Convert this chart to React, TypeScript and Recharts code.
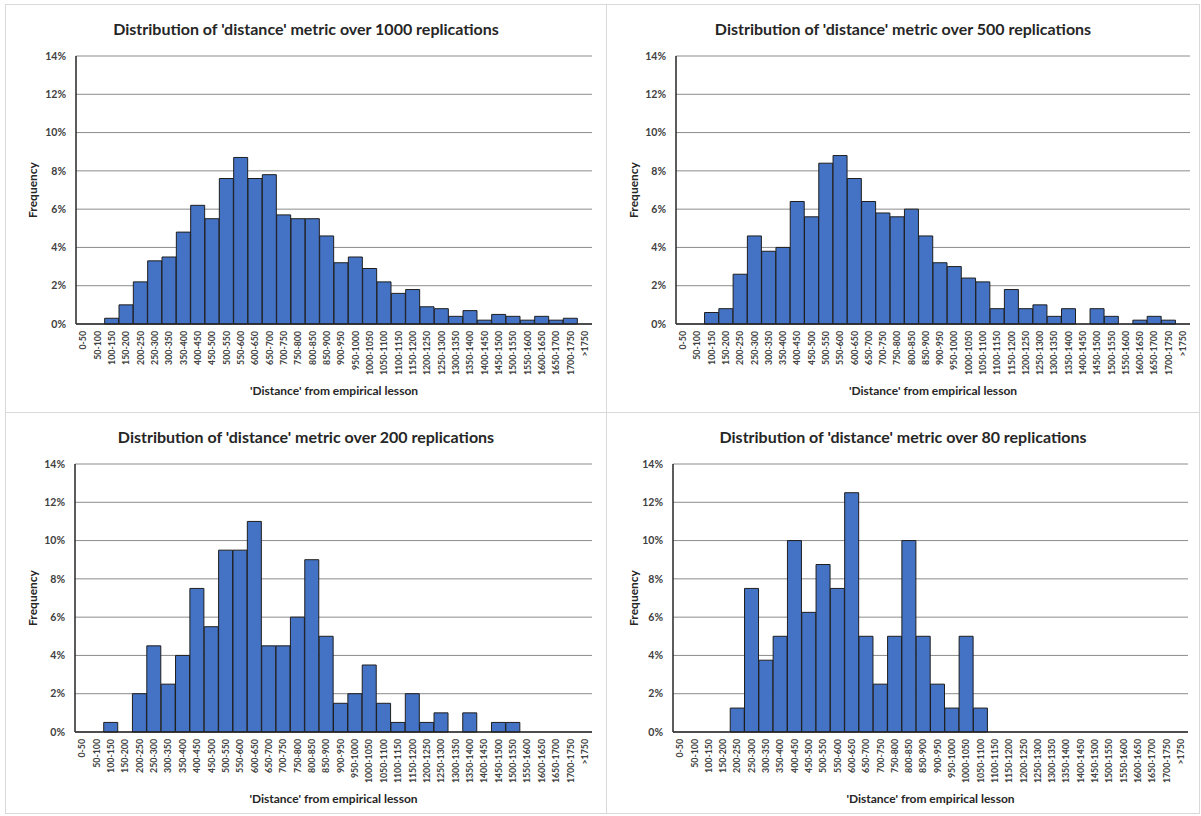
import React from 'react';
import { BarChart, Bar, XAxis, YAxis, CartesianGrid } from 'recharts';

const bins = [
  '0-50', '50-100', '100-150', '150-200', '200-250', '250-300', '300-350', '350-400',
  '400-450', '450-500', '500-550', '550-600', '600-650', '650-700', '700-750', '750-800',
  '800-850', '850-900', '900-950', '950-1000', '1000-1050', '1050-1100', '1100-1150',
  '1150-1200', '1200-1250', '1250-1300', '1300-1350', '1350-1400', '1400-1450',
  '1450-1500', '1500-1550', '1550-1600', '1600-1650', '1650-1700', '1700-1750', '>1750',
];

// frequency in % per bin
const freq1000 = [0, 0, 0.3, 1.0, 2.2, 3.3, 3.5, 4.8, 6.2, 5.5, 7.6, 8.7, 7.6, 7.8, 5.7, 5.5, 5.5, 4.6, 3.2, 3.5, 2.9, 2.2, 1.6, 1.8, 0.9, 0.8, 0.4, 0.7, 0.2, 0.5, 0.4, 0.2, 0.4, 0.2, 0.3, 0];
const freq500 = [0, 0, 0.6, 0.8, 2.6, 4.6, 3.8, 4.0, 6.4, 5.6, 8.4, 8.8, 7.6, 6.4, 5.8, 5.6, 6.0, 4.6, 3.2, 3.0, 2.4, 2.2, 0.8, 1.8, 0.8, 1.0, 0.4, 0.8, 0, 0.8, 0.4, 0, 0.2, 0.4, 0.2, 0];
const freq200 = [0, 0, 0.5, 0, 2.0, 4.5, 2.5, 4.0, 7.5, 5.5, 9.5, 9.5, 11.0, 4.5, 4.5, 6.0, 9.0, 5.0, 1.5, 2.0, 3.5, 1.5, 0.5, 2.0, 0.5, 1.0, 0, 1.0, 0, 0.5, 0.5, 0, 0, 0, 0, 0];
const freq80 = [0, 0, 0, 0, 1.25, 7.5, 3.75, 5.0, 10.0, 6.25, 8.75, 7.5, 12.5, 5.0, 2.5, 5.0, 10.0, 5.0, 2.5, 1.25, 5.0, 1.25, 0, 0, 0, 0, 0, 0, 0, 0, 0, 0, 0, 0, 0, 0];

const yTicks = [0, 2, 4, 6, 8, 10, 12, 14];

const FONT = 'Lato, "Open Sans", sans-serif';

const BinTick = ({ x, y, payload }: any) => (
  <text
    x={x}
    y={y - 1}
    transform={`rotate(-90 ${x} ${y - 1})`}
    textAnchor="end"
    dy="0.35em"
    fontSize={8.8}
    fontWeight={700}
    fontFamily={FONT}
    fill="#404040"
  >
    {payload.value}
  </text>
);

interface PanelProps {
  left: number;
  top: number;
  width: number;
  height: number;
  reps: number;
  values: number[];
  plotLeft: number;
  plotRight: number;
}

const Panel = ({ left, top, width, height, reps, values, plotLeft, plotRight }: PanelProps) => {
  const data = bins.map((bin, i) => ({ bin, freq: values[i] }));
  const chartW = width - 2;
  const chartH = height - 2;
  const yAxisW = 60;
  return (
    <div
      style={{
        position: 'absolute',
        left,
        top,
        width,
        height,
        border: '1px solid #d9d9d9',
        boxSizing: 'border-box',
      }}
    >
      <div
        style={{
          position: 'absolute',
          left: 0,
          top: 14,
          width: chartW,
          textAlign: 'center',
          fontFamily: FONT,
          fontWeight: 700,
          fontSize: 16,
          color: '#262626',
        }}
      >
        Distribution of 'distance' metric over {reps} replications
      </div>
      <div style={{ position: 'absolute', left: 0, top: 0 }}>
        <BarChart
          width={chartW}
          height={chartH}
          data={data}
          barCategoryGap={0}
          margin={{ top: 51, right: plotRight, bottom: chartH - 319 - 75, left: plotLeft - yAxisW }}
        >
          <CartesianGrid vertical={false} stroke="#8c8c8c" strokeWidth={1} />
          <XAxis
            dataKey="bin"
            interval={0}
            height={75}
            tickLine={false}
            axisLine={{ stroke: '#262626', strokeWidth: 1.5 }}
            tick={<BinTick />}
            label={{
              value: "'Distance' from empirical lesson",
              position: 'insideBottom',
              offset: 4,
              style: { fontFamily: FONT, fontWeight: 700, fontSize: 12, fill: '#262626' },
            }}
          />
          <YAxis
            width={yAxisW}
            domain={[0, 14]}
            ticks={yTicks}
            tickLine={false}
            tickMargin={4}
            axisLine={{ stroke: '#262626', strokeWidth: 1.5 }}
            tickFormatter={(v: number) => `${v}%`}
            tick={{ fontFamily: FONT, fontWeight: 700, fontSize: 10.5, fill: '#404040' }}
            label={{
              value: 'Frequency',
              angle: -90,
              position: 'insideLeft',
              offset: 27 - (plotLeft - yAxisW),
              style: { textAnchor: 'middle', fontFamily: FONT, fontWeight: 700, fontSize: 12, fill: '#262626' },
            }}
          />
          <Bar dataKey="freq" fill="#4472C4" stroke="#1e1e1e" strokeWidth={1} isAnimationActive={false} />
        </BarChart>
      </div>
    </div>
  );
};

export default function App() {
  return (
    <div
      style={{
        position: 'fixed',
        left: 0,
        top: 0,
        width: 1201,
        height: 816,
        background: '#ffffff',
        overflow: 'hidden',
      }}
    >
      <Panel left={5} top={4} width={602} height={409} reps={1000} values={freq1000} plotLeft={70} plotRight={14} />
      <Panel left={606} top={4} width={594} height={409} reps={500} values={freq500} plotLeft={69} plotRight={9} />
      <Panel left={5} top={412} width={602} height={402} reps={200} values={freq200} plotLeft={69} plotRight={14} />
      <Panel left={606} top={412} width={594} height={402} reps={80} values={freq80} plotLeft={66} plotRight={11} />
    </div>
  );
}
